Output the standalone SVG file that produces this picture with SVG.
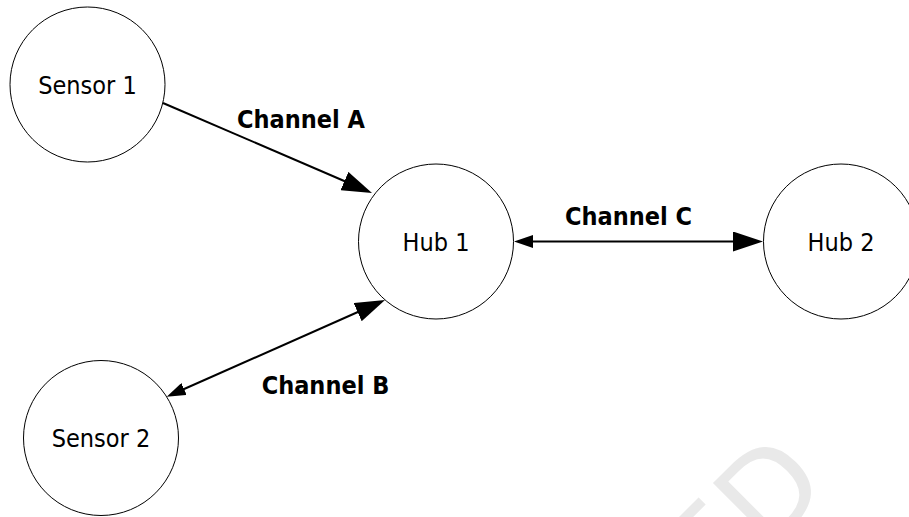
<svg xmlns="http://www.w3.org/2000/svg" width="909" height="517" viewBox="0 0 909 517">
  <style>
    .node circle { fill: #ffffff; stroke: #000000; stroke-width: 1; }
    .node text { font-family: "DejaVu Sans Condensed", "DejaVu Sans", sans-serif; font-size: 25px; fill: #000000; text-anchor: middle; }
    .conn { fill: none; stroke: #000000; stroke-width: 2; }
    .label { font-family: "DejaVu Sans Condensed", "DejaVu Sans", sans-serif; font-size: 25px; font-weight: bold; fill: #000000; text-anchor: middle; }
    .wm { font-family: "DejaVu Sans", sans-serif; font-size: 120px; fill: #e9e9e9; }
  </style>
  <defs>
    <marker id="headBig" viewBox="0 0 30 20" refX="20" refY="10" markerWidth="30" markerHeight="20" markerUnits="userSpaceOnUse" orient="auto">
      <path d="M0,0 L30,10 L0,20 Z" fill="#000000"/>
    </marker>
    <marker id="headSmall" viewBox="0 0 19 13" refX="11" refY="6.5" markerWidth="19" markerHeight="13" markerUnits="userSpaceOnUse" orient="auto-start-reverse">
      <path d="M0,0 L19,6.5 L0,13 Z" fill="#000000"/>
    </marker>
  </defs>
  <rect x="0" y="0" width="909" height="517" fill="#ffffff"/>
  <g id="watermark" transform="translate(713,483) rotate(-45)">
    <text class="wm" x="-87.6" y="87.5">ED</text>
  </g>
  <g id="sensor1" class="node">
    <circle cx="87.5" cy="84.5" r="77.5"/>
    <text x="87.5" y="93.5">Sensor 1</text>
  </g>
  <g id="sensor2" class="node">
    <circle cx="101" cy="438" r="77.5"/>
    <text x="101" y="447">Sensor 2</text>
  </g>
  <g id="hub1" class="node">
    <circle cx="436" cy="241.5" r="77.5"/>
    <text x="436" y="250.5">Hub 1</text>
  </g>
  <g id="hub2" class="node">
    <circle cx="841" cy="241.5" r="77.5"/>
    <text x="841" y="250.5">Hub 2</text>
  </g>
  <g id="connectors">
    <path class="conn" d="M163,103 L362.8,189" marker-end="url(#headBig)"/>
    <path class="conn" d="M174,393.5 L375.9,304" marker-start="url(#headSmall)" marker-end="url(#headBig)"/>
    <path class="conn" d="M522,241.5 L753,241.5" marker-start="url(#headSmall)" marker-end="url(#headBig)"/>
    <text class="label" x="301" y="128">Channel A</text>
    <text class="label" x="325.5" y="394">Channel B</text>
    <text class="label" x="628.5" y="225">Channel C</text>
  </g>
</svg>
